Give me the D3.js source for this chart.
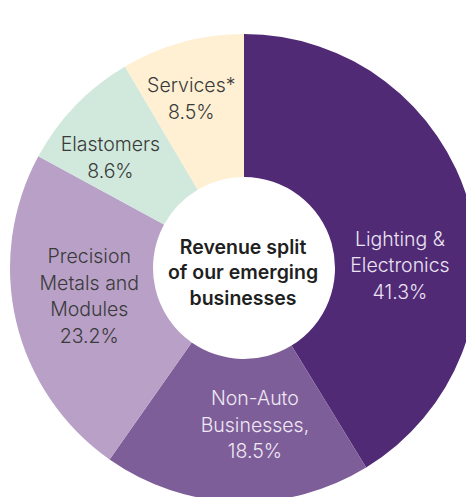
<!DOCTYPE html>
<html>
<head>
<meta charset="utf-8">
<script src="https://cdn.jsdelivr.net/npm/d3@7"></script>
<style>
  html, body { margin: 0; padding: 0; background: #ffffff; }
  svg { display: block; }
</style>
</head>
<body>
<svg id="chart" width="466" height="497"></svg>
<script>
// ---- data ----
const categories = ["Lighting & Electronics", "Non-Auto Businesses,", "Precision Metals and Modules", "Elastomers", "Services*"];
const values = [41.3, 18.5, 23.2, 8.6, 8.5];
const labelLines = [
  ["Lighting &", "Electronics", "41.3%"],
  ["Non-Auto", "Businesses,", "18.5%"],
  ["Precision", "Metals and", "Modules", "23.2%"],
  ["Elastomers", "8.6%"],
  ["Services*", "8.5%"]
];
const colors = ["#512a75", "#7e5e98", "#b8a0c7", "#d0e9dc", "#fff0d3"];
const textColors = ["#ebe3f3", "#efe8f5", "#3a3a3a", "#3a3a3a", "#3a3a3a"];
const centerTitle = ["Revenue split", "of our emerging", "businesses"];

// ---- layout ----
const cx = 244, cy = 268, outerR = 234, innerR = 91, labelR = 162;
const labelOffsets = [[0, 42], [16, -4], [3, -8], [-17, 3], [-10, -12]];
const lineH = 26.5;

const svg = d3.select("#chart");
const g = svg.append("g").attr("transform", `translate(${cx},${cy})`);

const pie = d3.pie().sort(null).value(d => d.value);
const data = categories.map((c, i) => ({ name: c, value: values[i], i }));
const arcs = pie(data);

const arc = d3.arc().innerRadius(innerR).outerRadius(outerR);
const labelArc = d3.arc().innerRadius(labelR).outerRadius(labelR);

g.selectAll("path.slice")
  .data(arcs)
  .join("path")
  .attr("class", "slice")
  .attr("d", arc)
  .attr("fill", d => colors[d.data.i]);

const labels = g.selectAll("text.lbl")
  .data(arcs)
  .join("text")
  .attr("class", "lbl")
  .attr("text-anchor", "middle")
  .attr("font-family", "Inter, 'Noto Sans', sans-serif")
  .attr("font-weight", 300)
  .attr("font-size", 19.5)
  .attr("fill", d => textColors[d.data.i])
  .attr("transform", d => {
    const [x, y] = labelArc.centroid(d);
    const o = labelOffsets[d.data.i];
    return `translate(${x + o[0]},${y + o[1]})`;
  });

labels.each(function(d) {
  const lines = labelLines[d.data.i];
  const n = lines.length;
  d3.select(this).selectAll("tspan")
    .data(lines)
    .join("tspan")
    .attr("x", 0)
    .attr("y", (l, k) => (k - (n - 1) / 2) * lineH + 6)
    .text(l => l);
});

const ct = g.append("text")
  .attr("text-anchor", "middle")
  .attr("font-family", "Inter, 'Noto Sans', sans-serif")
  .attr("font-weight", 600)
  .attr("font-size", 19.5)
  .attr("fill", "#1f1f1f");
ct.selectAll("tspan")
  .data(centerTitle)
  .join("tspan")
  .attr("x", -1)
  .attr("y", (l, k) => (k - 1) * 25.5 + 11)
  .text(l => l);
</script>
</body>
</html>
